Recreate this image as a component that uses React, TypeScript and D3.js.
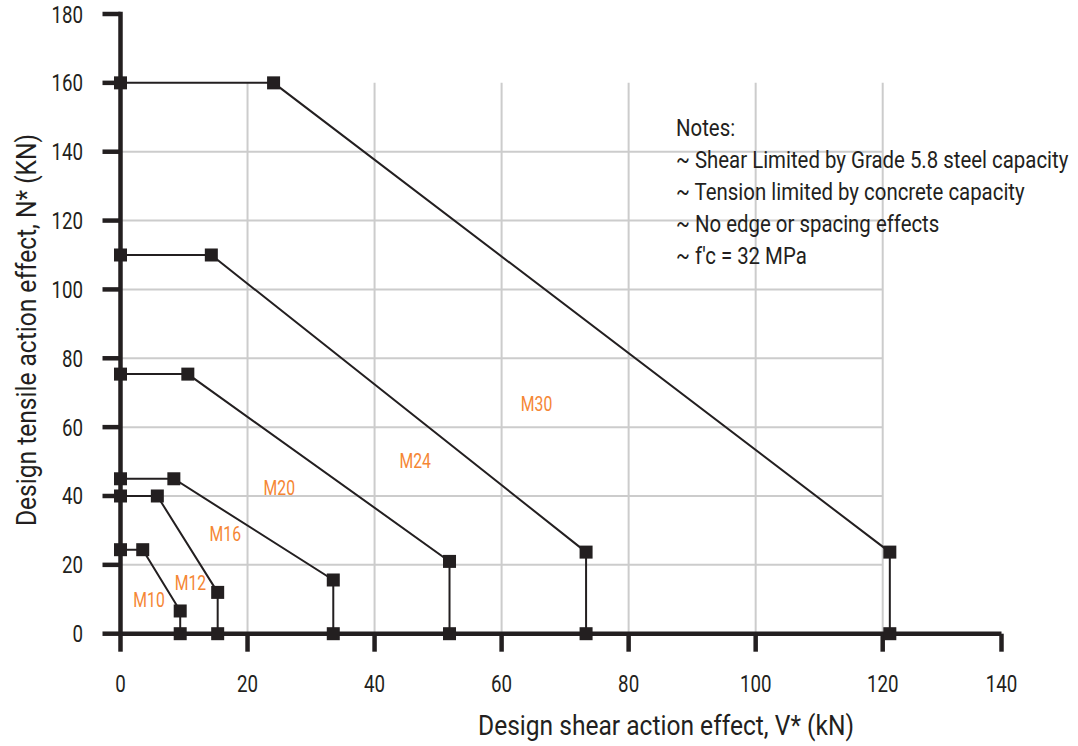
import React from "react";
import * as d3 from "d3";

const W = 1078;
const H = 746;

// Data (V* kN, N* kN)
const seriesNames = ["M10", "M12", "M16", "M20", "M24", "M30"];
const m10V = [0, 3.5, 9.4, 9.4];
const m10N = [24.4, 24.4, 6.6, 0];
const m12V = [0, 5.8, 15.3, 15.3];
const m12N = [40, 40, 12, 0];
const m16V = [0, 8.4, 33.5, 33.5];
const m16N = [45, 45, 15.6, 0];
const m20V = [0, 10.6, 51.8, 51.8];
const m20N = [75.4, 75.4, 21, 0];
const m24V = [0, 14.3, 73.3, 73.3];
const m24N = [110, 110, 23.7, 0];
const m30V = [0, 24.1, 121.2, 121.2];
const m30N = [160, 160, 23.7, 0];
const seriesV = [m10V, m12V, m16V, m20V, m24V, m30V];
const seriesN = [m10N, m12N, m16N, m20N, m24N, m30N];

// label anchors (data units)
const labelV = [4.5, 11.0, 16.5, 25.0, 46.4, 65.5];
const labelN = [9.8, 15.0, 29.1, 42.5, 50.4, 67.0];

const xTicks = [0, 20, 40, 60, 80, 100, 120, 140];
const yTicks = [0, 20, 40, 60, 80, 100, 120, 140, 160, 180];
const xGrid = [20, 40, 60, 80, 100, 120];
const yGrid = [20, 40, 60, 80, 100, 120, 140];

const notes = [
  "Notes:",
  "~ Shear Limited by Grade 5.8 steel capacity",
  "~ Tension limited by concrete capacity",
  "~ No edge or spacing effects",
  "~ f'c = 32 MPa",
];

const xTitle = "Design shear action effect, V* (kN)";
const yTitle = "Design tensile action effect, N* (KN)";

const INK = "#231f20";
const ORANGE = "#f58634";
const GRID = "#cccccc";
const FONT = "Roboto, 'Noto Sans', sans-serif";

function CText({ x, y, sx = 0.78, anchor = "start", size = 22, fill = INK, rotate = 0, children }: any) {
  return (
    <text
      transform={`translate(${x},${y}) rotate(${rotate}) scale(${sx},1)`}
      textAnchor={anchor}
      fontFamily={FONT}
      fontSize={size}
      fill={fill}
    >
      {children}
    </text>
  );
}

export default function App() {
  const x = d3.scaleLinear().domain([0, 120, 140]).range([120.5, 882.7, 1001.5]);
  const y = d3.scaleLinear().domain([0, 180]).range([633.7, 14]);

  const line = d3
    .line<[number, number]>()
    .x((d) => x(d[0]))
    .y((d) => y(d[1]));

  const sq = 13;

  return (
    <svg width={W} height={H} style={{ position: "absolute", left: 0, top: 0, background: "#fff" }}>
      <rect width={W} height={H} fill="#fff" />
      {/* grid */}
      {xGrid.map((v) => (
        <line key={"gx" + v} x1={x(v)} x2={x(v)} y1={y(0)} y2={y(160)} stroke={GRID} strokeWidth={2} />
      ))}
      {yGrid.map((v) => (
        <line key={"gy" + v} x1={x(0)} x2={x(120)} y1={y(v)} y2={y(v)} stroke={GRID} strokeWidth={2} />
      ))}

      {/* axes */}
      <line x1={x(0)} x2={x(140)} y1={y(0)} y2={y(0)} stroke={INK} strokeWidth={4.5} />
      <line x1={x(0)} x2={x(0)} y1={y(0)} y2={y(180)} stroke={INK} strokeWidth={4.5} strokeLinecap="square" />
      {xTicks.map((v) => (
        <line key={"tx" + v} x1={x(v)} x2={x(v)} y1={y(0)} y2={y(0) + 18} stroke={INK} strokeWidth={4.5} />
      ))}
      {yTicks.map((v) => (
        <line key={"ty" + v} x1={x(0)} x2={x(0) - 18} y1={y(v)} y2={y(v)} stroke={INK} strokeWidth={4.5} />
      ))}
      {xTicks.map((v) => (
        <CText key={"lx" + v} x={x(v)} y={692} anchor="middle" size={24}>
          {v}
        </CText>
      ))}
      {yTicks.map((v) => (
        <CText key={"ly" + v} x={83} y={y(v) + 8.5} anchor="end" size={24}>
          {v}
        </CText>
      ))}

      {/* series */}
      {seriesV.map((vs, i) => {
        const pts: [number, number][] = vs.map((v, j) => [v, seriesN[i][j]]);
        return (
          <g key={seriesNames[i]}>
            <path d={line(pts) || ""} fill="none" stroke={INK} strokeWidth={2} />
            {pts.map((p, j) => (
              <rect key={j} x={x(p[0]) - sq / 2} y={y(p[1]) - sq / 2} width={sq} height={sq} fill={INK} />
            ))}
          </g>
        );
      })}

      {/* series labels */}
      {seriesNames.map((n, i) => (
        <CText key={"sl" + n} x={x(labelV[i])} y={y(labelN[i]) + 7.5} anchor="middle" size={21} sx={0.75} fill={ORANGE}>
          {n}
        </CText>
      ))}

      {/* notes */}
      {notes.map((t, i) => (
        <CText key={"n" + i} x={676} y={136 + i * 32} size={24} sx={0.85}>
          {t}
        </CText>
      ))}

      {/* axis titles */}
      <CText x={666} y={735} anchor="middle" size={27} sx={0.91}>
        {xTitle}
      </CText>
      <CText x={36} y={330} anchor="middle" size={27} sx={0.91} rotate={-90}>
        {yTitle}
      </CText>
    </svg>
  );
}
